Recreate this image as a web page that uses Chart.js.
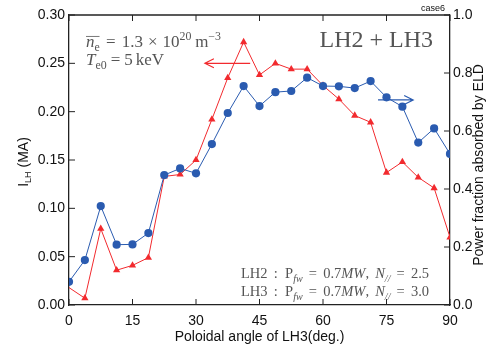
<!DOCTYPE html>
<html>
<head>
<meta charset="utf-8">
<script src="https://cdn.jsdelivr.net/npm/chart.js@4.4.1/dist/chart.umd.min.js"></script>
<style>
  html, body { margin: 0; padding: 0; background: #fff; }
  #wrap { width: 492px; height: 352px; }
</style>
</head>
<body>
<div id="wrap"><canvas id="chart" width="492" height="352"></canvas></div>
<script>
// Poloidal angle of LH3 (deg.)
const angles = [0, 3.75, 7.5, 11.25, 15, 18.75, 22.5, 26.25, 30, 33.75, 37.5, 41.25, 45,
                48.75, 52.5, 56.25, 60, 63.75, 67.5, 71.25, 75, 78.75, 82.5, 86.25, 90];
// I_LH (MA), red triangles, left axis
const currentLH = [0.018, 0.007, 0.079, 0.036, 0.041, 0.049, 0.133, 0.135, 0.150, 0.192, 0.235, 0.272, 0.238,
                   0.250, 0.244, 0.244, 0.227, 0.213, 0.196, 0.189, 0.137, 0.148, 0.132, 0.121, 0.070];
// Power fraction absorbed by ELD, blue circles, right axis
const eldFraction = [0.080, 0.155, 0.341, 0.208, 0.209, 0.248, 0.448, 0.471, 0.454, 0.555, 0.662, 0.755, 0.686,
                     0.734, 0.738, 0.784, 0.755, 0.754, 0.748, 0.772, 0.716, 0.684, 0.560, 0.609, 0.521];

const xTicks = [0, 15, 30, 45, 60, 75, 90];
const leftTicks = [0, 0.05, 0.10, 0.15, 0.20, 0.25, 0.30];
const rightTicks = [0, 0.2, 0.4, 0.6, 0.8, 1.0];

const RED = '#f22a2e';
const BLUE = '#2a5bb0';
const AXIS = '#222';
const NOTE = '#555';
const SANS = '"Liberation Sans", Arial, sans-serif';
const SERIF = '"Liberation Serif", "DejaVu Serif", serif';

// draw a run of text pieces (italic / sub / sup / overline), spreading the gaps to fill `width`
function drawRich(ctx, x, y, parts, size, width) {
    const fontOf = (p) => (p.it ? 'italic ' : '') + ((p.sub || p.sup) ? size * 0.7 : size) + 'px ' + SERIF;
    let natural = 0, gaps = 0;
    parts.forEach(p => {
        ctx.font = fontOf(p);
        p.w = ctx.measureText(p.t).width;
        natural += p.w;
        gaps += p.gap || 0;
    });
    const k = gaps > 0 ? Math.max(0, (width - natural) / gaps) : 0;
    let cx = x;
    for (const p of parts) {
        ctx.font = fontOf(p);
        const dy = p.sub ? size * 0.25 : (p.sup ? -size * 0.42 : 0);
        ctx.fillText(p.t, cx, y + dy);
        if (p.over) {
            ctx.beginPath();
            ctx.moveTo(cx, y - size * 0.62);
            ctx.lineTo(cx + p.w + 5, y - size * 0.62);
            ctx.lineWidth = 0.8;
            ctx.strokeStyle = NOTE;
            ctx.stroke();
        }
        cx += p.w + (p.gap || 0) * k;
    }
}

function arrow(ctx, x1, y1, x2, color) {
    const dir = x2 > x1 ? 1 : -1;
    ctx.beginPath();
    ctx.moveTo(x1, y1);
    ctx.lineTo(x2, y1);
    ctx.moveTo(x2 - dir * 9, y1 - 4.5);
    ctx.lineTo(x2, y1);
    ctx.lineTo(x2 - dir * 9, y1 + 4.5);
    ctx.strokeStyle = color;
    ctx.lineWidth = 1.2;
    ctx.stroke();
}

const decorations = {
    id: 'decorations',
    afterDraw(chart) {
        const ctx = chart.ctx;
        const a = chart.chartArea;
        const sx = chart.scales.x, sy = chart.scales.y, sy1 = chart.scales.y1;
        ctx.save();

        // top frame line
        ctx.strokeStyle = AXIS;
        ctx.lineWidth = 1.3;
        ctx.beginPath();
        ctx.moveTo(a.left, a.top);
        ctx.lineTo(a.right, a.top);
        ctx.stroke();

        // inward tick marks
        const tl = 6;
        ctx.lineWidth = 1;
        ctx.beginPath();
        xTicks.forEach(v => {
            const px = sx.getPixelForValue(v);
            ctx.moveTo(px, a.bottom); ctx.lineTo(px, a.bottom - tl);
            ctx.moveTo(px, a.top); ctx.lineTo(px, a.top + tl);
        });
        leftTicks.forEach(v => {
            const py = sy.getPixelForValue(v);
            ctx.moveTo(a.left, py); ctx.lineTo(a.left + tl, py);
        });
        rightTicks.forEach(v => {
            const py = sy1.getPixelForValue(v);
            ctx.moveTo(a.right, py); ctx.lineTo(a.right - tl, py);
        });
        ctx.stroke();

        // left axis title: I_LH (MA)
        ctx.fillStyle = '#111';
        ctx.save();
        ctx.translate(28, (a.top + a.bottom) / 2 + 2);
        ctx.rotate(-Math.PI / 2);
        ctx.textBaseline = 'alphabetic';
        ctx.font = '14px ' + SANS;
        const wI = ctx.measureText('I').width;
        ctx.font = '9px ' + SANS;
        const wSub = ctx.measureText('LH').width;
        ctx.font = '14px ' + SANS;
        const wRest = ctx.measureText(' (MA)').width;
        let tx = -(wI + wSub + wRest) / 2;
        ctx.fillText('I', tx, 0); tx += wI;
        ctx.font = '9px ' + SANS;
        ctx.fillText('LH', tx, 3); tx += wSub;
        ctx.font = '14px ' + SANS;
        ctx.fillText(' (MA)', tx, 0);
        ctx.restore();

        // right axis title
        ctx.save();
        ctx.translate(483, (a.top + a.bottom) / 2 + 5);
        ctx.rotate(-Math.PI / 2);
        ctx.font = '14px ' + SANS;
        ctx.textAlign = 'center';
        ctx.textBaseline = 'alphabetic';
        ctx.fillText('Power fraction absorbed by ELD', 0, 0);
        ctx.restore();

        // case label
        ctx.font = '9px ' + SANS;
        ctx.fillStyle = '#111';
        ctx.textAlign = 'center';
        ctx.fillText('case6', 433, 11);

        // annotations
        ctx.textAlign = 'left';
        ctx.fillStyle = NOTE;
        drawRich(ctx, 86, 47, [
            { t: 'n', it: true, over: true },
            { t: 'e', sub: true, gap: 5 },
            { t: '=', gap: 5 },
            { t: '1.3', gap: 4 },
            { t: '×', gap: 4 },
            { t: '10' },
            { t: '20', sup: true, gap: 3 },
            { t: 'm' },
            { t: '−3', sup: true }
        ], 17, 135);
        drawRich(ctx, 86, 65, [
            { t: 'T', it: true },
            { t: 'e0', sub: true, gap: 4 },
            { t: '=', gap: 4 },
            { t: '5', gap: 3 },
            { t: 'keV' }
        ], 17, 78);

        ctx.textAlign = 'right';
        ctx.font = '24px ' + SERIF;
        ctx.fillText('LH2 + LH3', 433, 47);
        ctx.textAlign = 'left';

        const note = (y, name, n) => drawRich(ctx, 241, y, [
            { t: name, gap: 5 },
            { t: ':', gap: 6 },
            { t: 'P' },
            { t: 'fw', sub: true, it: true, gap: 5 },
            { t: '=', gap: 5 },
            { t: '0.7' },
            { t: 'MW', it: true },
            { t: ',', gap: 5 },
            { t: 'N', it: true },
            { t: '//', sub: true, it: true, gap: 5 },
            { t: '=', gap: 5 },
            { t: n }
        ], 14.5, 188);
        note(278, 'LH2', '2.5');
        note(296, 'LH3', '3.0');

        // direction arrows
        arrow(ctx, sx.getPixelForValue(42.8), sy.getPixelForValue(0.250), sx.getPixelForValue(32.1), RED);
        arrow(ctx, sx.getPixelForValue(73.0), sy1.getPixelForValue(0.707), sx.getPixelForValue(81.3), BLUE);

        ctx.restore();
    }
};

const toPoints = (ys) => ys.map((v, i) => ({ x: angles[i], y: v }));

new Chart(document.getElementById('chart'), {
    type: 'line',
    data: {
        datasets: [
            {
                label: 'ELD fraction',
                data: toPoints(eldFraction),
                yAxisID: 'y1',
                borderColor: BLUE,
                backgroundColor: BLUE,
                borderWidth: 1,
                pointStyle: 'circle',
                pointRadius: 4.1,
                pointBorderWidth: 0,
                tension: 0
            },
            {
                label: 'I_LH',
                data: toPoints(currentLH),
                yAxisID: 'y',
                borderColor: RED,
                backgroundColor: RED,
                borderWidth: 1,
                pointStyle: 'triangle',
                pointRadius: (c) => c.dataIndex === 0 ? 0 : 4.2,
                pointBorderWidth: 0,
                tension: 0
            }
        ]
    },
    options: {
        responsive: false,
        animation: false,
        layout: { padding: { top: 15, left: 0, right: 0, bottom: 0 } },
        plugins: { legend: { display: false }, tooltip: { enabled: false } },
        scales: {
            x: {
                type: 'linear',
                min: 0, max: 90,
                afterBuildTicks: (s) => { s.ticks = xTicks.map(v => ({ value: v })); },
                afterFit: (s) => { s.height = 47; },
                grid: { display: false, drawTicks: false },
                border: { display: true, color: AXIS, width: 1.3 },
                ticks: { color: '#111', font: { family: SANS, size: 14 }, padding: 8, maxRotation: 0 },
                title: { display: true, text: 'Poloidal angle of LH3(deg.)', color: '#111',
                         font: { family: SANS, size: 14 }, padding: { top: 0, bottom: 6 } }
            },
            y: {
                position: 'left',
                min: 0, max: 0.3,
                afterBuildTicks: (s) => { s.ticks = leftTicks.map(v => ({ value: v })); },
                afterFit: (s) => { s.width = 69; },
                grid: { display: false, drawTicks: false },
                border: { display: true, color: AXIS, width: 1.3 },
                ticks: { color: '#111', font: { family: SANS, size: 14 }, padding: 4,
                         callback: (v) => v.toFixed(2) }
            },
            y1: {
                position: 'right',
                min: 0, max: 1,
                afterBuildTicks: (s) => { s.ticks = rightTicks.map(v => ({ value: v })); },
                afterFit: (s) => { s.width = 42; },
                grid: { display: false, drawTicks: false },
                border: { display: true, color: AXIS, width: 1.3 },
                ticks: { color: '#111', font: { family: SANS, size: 14 }, padding: 3,
                         callback: (v) => v.toFixed(1) }
            }
        }
    },
    plugins: [decorations]
});
</script>
</body>
</html>
